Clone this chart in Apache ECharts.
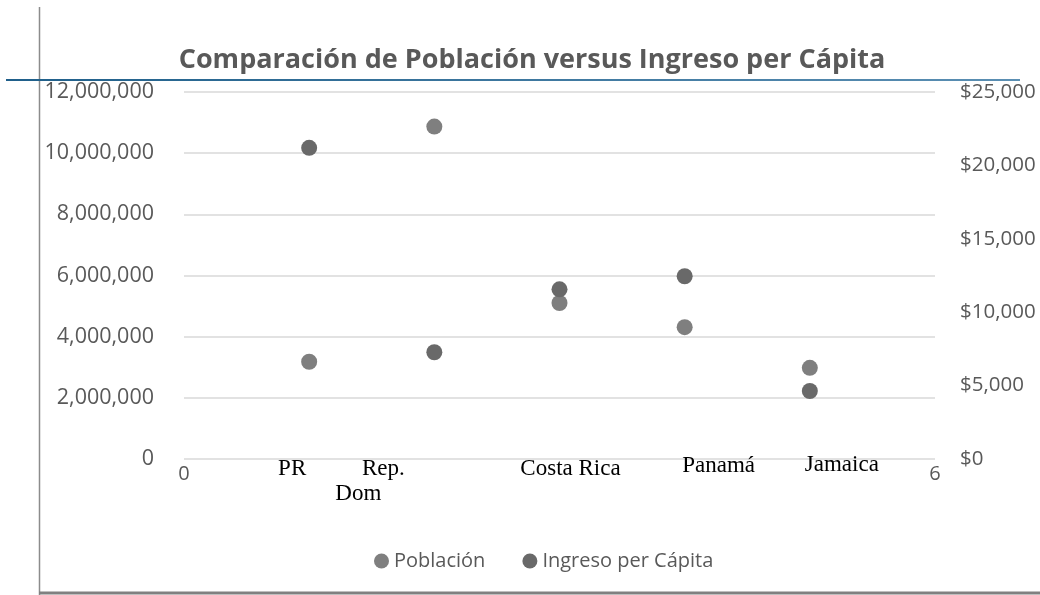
<!DOCTYPE html>
<html>
<head>
<meta charset="utf-8">
<style>
  html, body { margin: 0; padding: 0; background: #fff; }
  #chart { width: 1040px; height: 595px; }
</style>
<script src="https://cdn.jsdelivr.net/npm/echarts@6/dist/echarts.min.js"></script>
</head>
<body>
<div id="chart"></div>
<script>
// datos
const paises = ['PR', 'Rep. Dom', 'Costa Rica', 'Panamá', 'Jamaica']
const posiciones = [1, 2, 3, 4, 5]
const poblacion = [3180000, 10870000, 5100000, 4310000, 2980000]
const ingreso = [21200, 7270, 11560, 12450, 4630]

const chart = echarts.init(document.getElementById('chart'))

const gris = '#595959'
const serif = { color: '#000', fontFamily: 'Liberation Serif', fontSize: 23, lineHeight: 26 }

// las etiquetas de país son cuadros de texto algo desplazados respecto al punto
const richCat = {
  num: { color: gris, fontFamily: 'Open Sans', fontSize: 20, padding: [12, 0, 0, 0] },
  c1: Object.assign({ padding: [8, 34, 0, 0] }, serif),
  c2a: Object.assign({ padding: [8, 102, 0, 0] }, serif),
  c2b: Object.assign({ padding: [6, 152, 0, 0] }, serif),
  c3: Object.assign({ padding: [8, 0, 0, 22] }, serif),
  c4: Object.assign({ padding: [2, 0, 0, 68] }, serif),
  c5: Object.assign({ padding: [0, 0, 0, 64] }, serif)
}

const option = {
  animation: false,
  title: {
    text: 'Comparación de Población versus Ingreso per Cápita',
    left: 527,
    textAlign: 'center',
    top: 42,
    textStyle: {
      color: gris,
      fontFamily: 'Open Sans',
      fontWeight: 'bold',
      fontSize: 27
    }
  },
  legend: {
    top: 546,
    left: 369,
    itemGap: 37,
    itemWidth: 15,
    itemHeight: 15,
    textStyle: { color: gris, fontFamily: 'Open Sans', fontSize: 20 },
    data: [
      { name: 'Población', icon: 'circle' },
      { name: 'Ingreso per Cápita', icon: 'circle' }
    ]
  },
  grid: { left: 184, right: 105, top: 92, bottom: 136 },
  xAxis: {
    type: 'value',
    min: 0,
    max: 6,
    interval: 1,
    axisLine: { show: false },
    axisTick: { show: false },
    splitLine: { show: false },
    axisLabel: {
      margin: -7,
      formatter: function (v) {
        const i = posiciones.indexOf(v)
        if (i < 0) return '{num|' + v + '}'
        if (i === 1) {
          const partes = paises[i].split(' ')
          return '{c2a|' + partes[0] + '}\n{c2b|' + partes[1] + '}'
        }
        return '{c' + (i + 1) + '|' + paises[i] + '}'
      },
      rich: richCat
    }
  },
  yAxis: [
    {
      type: 'value',
      min: 0,
      max: 12000000,
      interval: 2000000,
      axisLine: { show: false },
      axisTick: { show: false },
      splitLine: { lineStyle: { color: '#d9d9d9', width: 1.5 } },
      axisLabel: {
        color: gris,
        fontFamily: 'Open Sans',
        fontSize: 21.5,
        margin: 30,
        padding: [9, 0, 0, 0],
        formatter: v => v.toLocaleString('en-US')
      }
    },
    {
      type: 'value',
      min: 0,
      max: 25000,
      interval: 5000,
      axisLine: { show: false },
      axisTick: { show: false },
      splitLine: { show: false },
      axisLabel: {
        color: gris,
        fontFamily: 'Open Sans',
        fontSize: 20.5,
        margin: 25,
        padding: [6, 0, 0, 0],
        formatter: v => '$' + v.toLocaleString('en-US')
      }
    }
  ],
  series: [
    {
      name: 'Población',
      type: 'scatter',
      yAxisIndex: 0,
      symbolSize: 16,
      itemStyle: { color: '#7f7f7f', opacity: 1 },
      data: posiciones.map((x, i) => [x, poblacion[i]])
    },
    {
      name: 'Ingreso per Cápita',
      type: 'scatter',
      yAxisIndex: 1,
      symbolSize: 16,
      itemStyle: { color: '#696969', opacity: 1 },
      data: posiciones.map((x, i) => [x, ingreso[i]])
    }
  ],
  graphic: [
    { type: 'line', shape: { x1: 39.5, y1: 7, x2: 39.5, y2: 595 }, style: { stroke: '#8c8c8c', lineWidth: 1.5 } },
    {
      type: 'line', shape: { x1: 6, y1: 80, x2: 1020, y2: 80 },
      style: {
        lineWidth: 2,
        stroke: new echarts.graphic.LinearGradient(0, 0, 1, 0, [
          { offset: 0, color: '#1f5f8a' },
          { offset: 1, color: '#5b8fb3' }
        ])
      }
    },
    { type: 'line', shape: { x1: 39, y1: 593, x2: 1040, y2: 593 }, style: { stroke: '#808080', lineWidth: 3 } }
  ]
}

chart.setOption(option)
</script>
</body>
</html>
